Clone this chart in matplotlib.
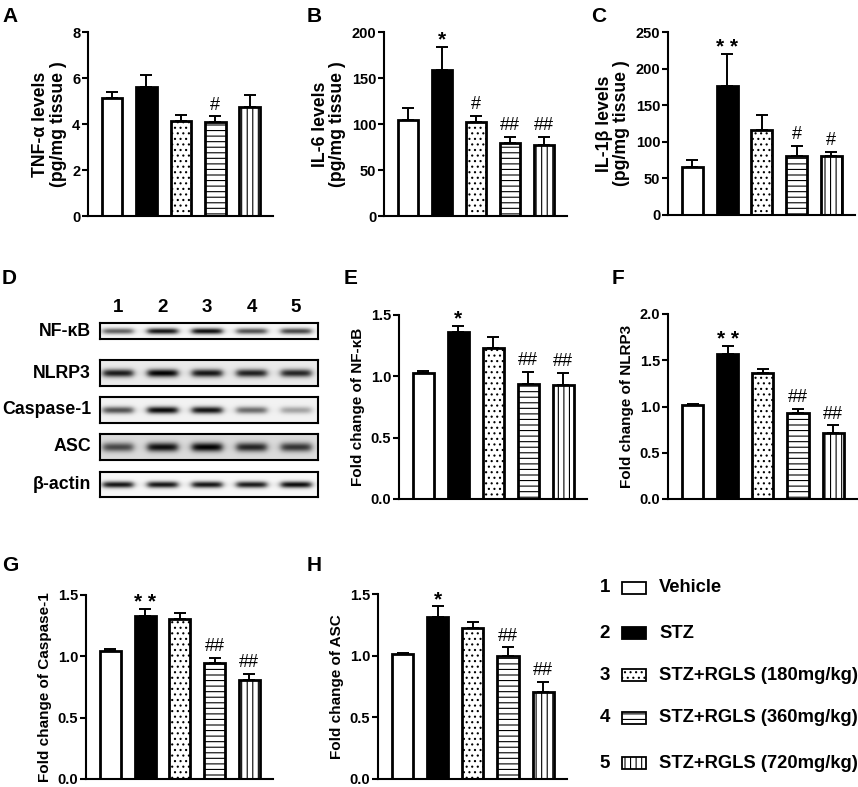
import numpy as np
import matplotlib
matplotlib.use("Agg")
import matplotlib.pyplot as plt
from matplotlib.patches import Rectangle

plt.rcParams['font.family'] = ['Liberation Sans', 'DejaVu Sans']
plt.rcParams['font.weight'] = 'bold'
plt.rcParams['hatch.linewidth'] = 0.8
plt.rcParams['hatch.color'] = 'black'

# ---------------- data ----------------
groups = ["Vehicle", "STZ", "STZ+RGLS (180mg/kg)", "STZ+RGLS (360mg/kg)", "STZ+RGLS (720mg/kg)"]
group_ids = ["1", "2", "3", "4", "5"]

tnf_mean = [5.12, 5.63, 4.15, 4.08, 4.72]
tnf_err = [0.29, 0.48, 0.25, 0.25, 0.52]
tnf_sig = ["", "", "", "#", ""]

il6_mean = [104.5, 159.0, 102.0, 79.1, 77.7]
il6_err = [12.7, 24.7, 6.5, 6.5, 8.0]
il6_sig = ["", "*", "#", "##", "##"]

il1b_mean = [66.1, 176.6, 115.5, 80.7, 80.7]
il1b_err = [8.7, 43.3, 21.4, 13.2, 6.0]
il1b_sig = ["", "* *", "", "#", "#"]

nfkb_mean = [1.03, 1.36, 1.23, 0.94, 0.93]
nfkb_err = [0.014, 0.054, 0.087, 0.095, 0.10]
nfkb_sig = ["", "*", "", "##", "##"]

nlrp3_mean = [1.02, 1.57, 1.36, 0.93, 0.71]
nlrp3_err = [0.01, 0.087, 0.04, 0.047, 0.086]
nlrp3_sig = ["", "* *", "", "##", "##"]

casp1_mean = [1.04, 1.33, 1.305, 0.944, 0.808]
casp1_err = [0.019, 0.054, 0.049, 0.041, 0.049]
casp1_sig = ["", "* *", "", "##", "##"]

asc_mean = [1.014, 1.316, 1.222, 0.997, 0.708]
asc_err = [0.008, 0.084, 0.054, 0.07, 0.078]
asc_sig = ["", "*", "", "##", "##"]

# western blot (band darkness 0-1 per lane, background darkness per row)
blot_rows = ["NF-κB", "NLRP3", "Caspase-1", "ASC", "β-actin"]
blot_bands = [
    [0.62, 0.92, 0.95, 0.68, 0.72],
    [0.90, 1.00, 0.92, 0.88, 0.86],
    [0.68, 0.97, 0.93, 0.58, 0.36],
    [0.72, 0.95, 1.00, 0.86, 0.80],
    [0.92, 0.92, 0.92, 0.90, 0.96],
]
blot_bg = [0.03, 0.08, 0.05, 0.14, 0.03]
blot_thick = [2.1, 2.8, 2.5, 3.2, 2.3]

# ---------------- styles ----------------
FACE = ['white', 'black', 'white', 'white', 'white']
HATCH = [None, None, '...', '---', '|||']

W, H = 858, 787
fig = plt.figure(figsize=(W / 100, H / 100), dpi=100)


def fax(x0, y0, x1, y1):
    return fig.add_axes([x0 / W, 1 - y1 / H, (x1 - x0) / W, (y1 - y0) / H])


def bar_panel(ax, vals, errs, sig, ylim, ticks, fmt, ylabel, lsize):
    x = np.arange(len(vals))
    ax.errorbar(x, vals, yerr=[np.zeros(len(vals)), errs], fmt='none', ecolor='black',
                elinewidth=1.4, capsize=4.5, capthick=1.4, zorder=1)
    for i in range(len(vals)):
        ax.bar(x[i], vals[i], width=0.6, facecolor=FACE[i], edgecolor='black',
               hatch=HATCH[i], linewidth=2.0, zorder=2)
    for i in range(len(vals)):
        if sig[i]:
            star = '*' in sig[i]
            ax.annotate(sig[i], (x[i], vals[i] + errs[i]), xytext=(0, -2 if star else 2),
                        textcoords='offset points', ha='center', va='bottom',
                        fontsize=15 if star else 13,
                        fontweight='bold' if star else 'normal')
    ax.set_xlim(-0.7, len(vals) - 1 + 0.68)
    ax.set_ylim(*ylim)
    ax.set_yticks(ticks)
    ax.set_yticklabels([fmt.format(t) for t in ticks], fontsize=10.5, fontweight='bold')
    ax.set_xticks([])
    for s in ['top', 'right']:
        ax.spines[s].set_visible(False)
    for s in ['left', 'bottom']:
        ax.spines[s].set_linewidth(1.5)
    ax.tick_params(axis='y', width=1.5, length=4, pad=1.5)
    ax.set_ylabel(ylabel, fontsize=lsize, fontweight='bold', labelpad=4, linespacing=1.05)


axA = fax(88, 32, 273, 216)
bar_panel(axA, tnf_mean, tnf_err, tnf_sig, (0, 8), [0, 2, 4, 6, 8], "{:g}",
          "TNF-α levels\n(pg/mg tissue )", 12.7)
axB = fax(384, 32, 567, 216)
bar_panel(axB, il6_mean, il6_err, il6_sig, (0, 200), [0, 50, 100, 150, 200], "{:g}",
          "IL-6 levels\n(pg/mg tissue )", 12.7)
axC = fax(668, 32, 855, 215)
bar_panel(axC, il1b_mean, il1b_err, il1b_sig, (0, 250), [0, 50, 100, 150, 200, 250], "{:g}",
          "IL-1β levels\n(pg/mg tissue )", 12.7)
axE = fax(399, 315, 587, 499)
bar_panel(axE, nfkb_mean, nfkb_err, nfkb_sig, (0, 1.5), [0, 0.5, 1.0, 1.5], "{:.1f}",
          "Fold change of NF-κB", 11)
axF = fax(668, 314, 857, 499)
bar_panel(axF, nlrp3_mean, nlrp3_err, nlrp3_sig, (0, 2.0), [0, 0.5, 1.0, 1.5, 2.0], "{:.1f}",
          "Fold change of NLRP3", 11)
axG = fax(86, 595, 273, 779)
bar_panel(axG, casp1_mean, casp1_err, casp1_sig, (0, 1.5), [0, 0.5, 1.0, 1.5], "{:.1f}",
          "Fold change of Caspase-1", 11)
axH = fax(378, 594, 567, 779)
bar_panel(axH, asc_mean, asc_err, asc_sig, (0, 1.5), [0, 0.5, 1.0, 1.5], "{:.1f}",
          "Fold change of ASC", 11)

# ---------------- western blot ----------------
row_boxes = [(323, 339), (360, 386), (397, 423), (434, 460), (472, 497)]
bx0, bx1 = 100, 318
lane_x = np.linspace(18, 196, 5)
for r, (y0, y1) in enumerate(row_boxes):
    ax = fax(bx0, y0, bx1, y1)
    wpx, hpx = bx1 - bx0, y1 - y0
    xx = np.arange(wpx * 3) / 3.0
    yy = np.arange(hpx * 3) / 3.0
    X, Y = np.meshgrid(xx, yy)
    img = np.full_like(X, blot_bg[r])
    for li, lx in enumerate(lane_x):
        gx = 1.0 / (1 + np.exp((np.abs(X - lx) - 15) / 2.0))
        gy = np.exp(-((Y - hpx / 2.0) ** 2) / (2 * blot_thick[r] ** 2))
        img = img + (blot_bands[r][li] - blot_bg[r]) * gx * gy
    img = np.clip(img, 0, 1)
    ax.imshow(1 - img, cmap='gray', vmin=0, vmax=1, aspect='auto',
              extent=(0, wpx, hpx, 0), interpolation='bilinear')
    ax.set_xticks([])
    ax.set_yticks([])
    for s in ax.spines.values():
        s.set_linewidth(1.5)
    fig.text(91 / W, 1 - ((y0 + y1) / 2) / H, blot_rows[r], ha='right', va='center',
             fontsize=12.8, fontweight='bold')

for li, lx in enumerate(lane_x):
    fig.text((bx0 + lx) / W, 1 - 307 / H, group_ids[li], ha='center', va='center',
             fontsize=13.5, fontweight='bold')

# ---------------- panel letters ----------------
letters = [("A", 2, 7), ("B", 307, 7), ("C", 591, 7), ("D", 2, 269), ("E", 344, 269),
           ("F", 612, 269), ("G", 2, 556), ("H", 307, 556)]
for t, lx, ly in letters:
    fig.text(lx / W, 1 - ly / H, t, ha='left', va='top', fontsize=15, fontweight='bold')

# ---------------- legend ----------------
lax = fig.add_axes([0, 0, 1, 1])
lax.set_xlim(0, W)
lax.set_ylim(H, 0)
lax.axis('off')
lax.patch.set_alpha(0)
leg_y = [588, 633, 675, 718, 763]
for i, yc in enumerate(leg_y):
    lax.text(610, yc, group_ids[i], ha='right', va='center', fontsize=13.5, fontweight='bold')
    lax.add_patch(Rectangle((622, yc - 6), 24, 12, facecolor=FACE[i], edgecolor='black',
                            hatch=HATCH[i], linewidth=1.3))
    lax.text(659, yc, groups[i], ha='left', va='center', fontsize=13.2, fontweight='bold')

fig.savefig("out.png", dpi=100)
